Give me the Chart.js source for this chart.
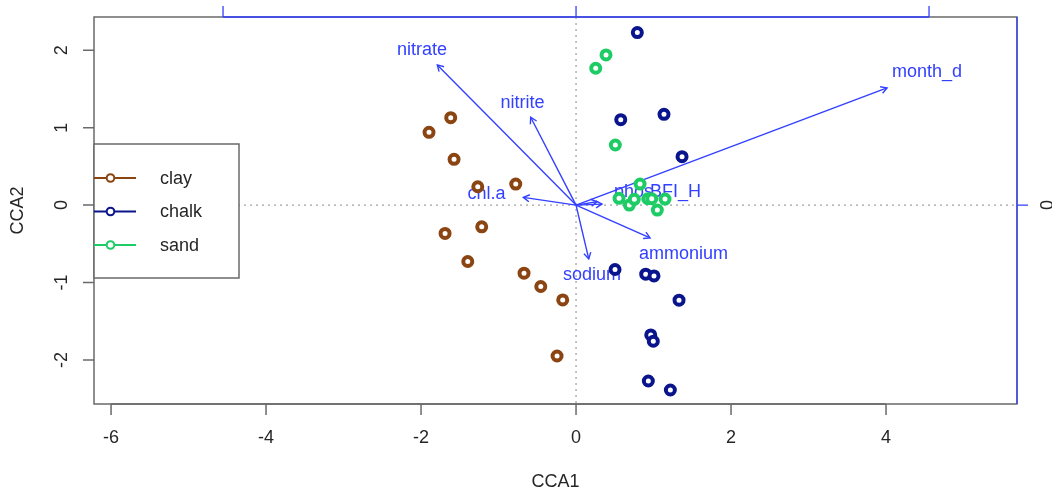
<!DOCTYPE html>
<html>
<head>
<meta charset="utf-8">
<script src="https://cdn.jsdelivr.net/npm/chart.js@4.4.0/dist/chart.umd.min.js"></script>
<style>
    html, body { margin: 0; padding: 0; background: #fff; }
</style>
</head>
<body>
<canvas id="cca" width="1052" height="492"></canvas>
<script>
// Site scores (CCA1, CCA2) per soil type
const clayX = [-1.617, -1.897, -1.574, -1.268, -0.778, -1.690, -1.217, -1.397, -0.671, -0.455, -0.172, -0.245];
const clayY = [1.129, 0.940, 0.591, 0.237, 0.272, -0.366, -0.281, -0.729, -0.880, -1.052, -1.225, -1.950];
const chalkX = [0.791, 0.577, 1.135, 1.368, 0.503, 0.899, 1.006, 1.329, 0.964, 0.997, 0.933, 1.217];
const chalkY = [2.229, 1.103, 1.173, 0.625, -0.832, -0.893, -0.915, -1.229, -1.678, -1.759, -2.273, -2.389];
const sandX = [0.387, 0.254, 0.507, 0.826, 0.555, 0.688, 0.752, 0.925, 0.977, 1.148, 1.049];
const sandY = [1.940, 1.768, 0.776, 0.272, 0.087, 0.000, 0.074, 0.082, 0.082, 0.078, -0.065];

// Environmental arrows (already scaled to the site axes)
const arrowNames = ['nitrate', 'nitrite', 'chl.a', 'sodium', 'ammonium', 'month_d', 'phos', 'BFI_H'];
const arrowX = [-1.790, -0.585, -0.680, 0.164, 0.955, 4.013, 0.271, 0.335];
const arrowY = [1.811, 1.135, 0.100, -0.695, -0.423, 1.514, 0.043, 0.013];
const labelX = [-1.987, -0.690, -1.155, 0.206, 1.387, 4.529, 0.742, 1.284];
const labelY = [2.005, 1.320, 0.142, -0.906, -0.634, 1.720, 0.168, 0.168];

// Axis ticks
const xTicks = [-6, -4, -2, 0, 2, 4];
const yTicks = [-2, -1, 0, 1, 2];
const arrowTicks = [-1, 0, 1];   // top / right axes for the arrow scale
const arrowMul = 4.555;

const groups = ['clay', 'chalk', 'sand'];
const groupColors = ['#8B4513', '#0A148C', '#1ECC66'];
const arrowColor = '#3340ff';
const boxColor = '#6a6a6a';
const textColor = '#262626';
const FONT = "18px 'Liberation Sans', Arial, sans-serif";

function pts(xs, ys) {
    return xs.map((x, i) => ({ x: x, y: ys[i] }));
}

const pointSets = [[clayX, clayY], [chalkX, chalkY], [sandX, sandY]].map((p, i) => ({
    label: groups[i],
    data: pts(p[0], p[1]),
    borderColor: groupColors[i],
    backgroundColor: '#ffffff',
    pointRadius: 4.5,
    pointBorderWidth: 4,
    pointHoverRadius: 4.5,
    showLine: false
}));

const arrowSets = arrowNames.map((name, i) => ({
    label: name,
    data: [{ x: 0, y: 0 }, { x: arrowX[i], y: arrowY[i] }],
    borderColor: arrowColor,
    borderWidth: 1.4,
    pointRadius: 0,
    showLine: true,
    isArrow: true
}));

// Axes, box, zero lines, arrow heads and labels (drawn under the points)
const rAxes = {
    id: 'rAxes',
    beforeDatasetsDraw(chart) {
        const { ctx, chartArea: a, scales: { x, y } } = chart;
        ctx.save();

        // dotted zero lines
        ctx.strokeStyle = '#8a8a8a';
        ctx.lineWidth = 1;
        ctx.setLineDash([2, 4]);
        ctx.beginPath();
        ctx.moveTo(a.left, y.getPixelForValue(0));
        ctx.lineTo(a.right, y.getPixelForValue(0));
        ctx.moveTo(x.getPixelForValue(0), a.top);
        ctx.lineTo(x.getPixelForValue(0), a.bottom);
        ctx.stroke();
        ctx.setLineDash([]);

        // arrow heads
        chart.data.datasets.forEach((ds, i) => {
            if (!ds.isArrow) return;
            const meta = chart.getDatasetMeta(i).data;
            const p0 = meta[0], p1 = meta[1];
            const ang = Math.atan2(p1.y - p0.y, p1.x - p0.x);
            const len = 7;
            ctx.strokeStyle = arrowColor;
            ctx.lineWidth = 1.4;
            ctx.beginPath();
            ctx.moveTo(p1.x - len * Math.cos(ang - Math.PI / 6), p1.y - len * Math.sin(ang - Math.PI / 6));
            ctx.lineTo(p1.x, p1.y);
            ctx.lineTo(p1.x - len * Math.cos(ang + Math.PI / 6), p1.y - len * Math.sin(ang + Math.PI / 6));
            ctx.stroke();
        });

        // arrow labels
        ctx.font = FONT;
        ctx.fillStyle = arrowColor;
        ctx.textAlign = 'center';
        ctx.textBaseline = 'middle';
        arrowNames.forEach((name, i) => {
            ctx.fillText(name, x.getPixelForValue(labelX[i]), y.getPixelForValue(labelY[i]));
        });
        ctx.restore();
    },
    afterDatasetsDraw(chart) {
        const { ctx, chartArea: a, scales: { x, y } } = chart;
        ctx.save();

        // plot box
        ctx.strokeStyle = boxColor;
        ctx.lineWidth = 1.5;
        ctx.strokeRect(a.left, a.top, a.right - a.left, a.bottom - a.top);

        // bottom axis
        ctx.font = FONT;
        ctx.fillStyle = textColor;
        ctx.textAlign = 'center';
        ctx.textBaseline = 'middle';
        ctx.lineWidth = 1.5;
        ctx.beginPath();
        ctx.moveTo(x.getPixelForValue(xTicks[0]), a.bottom);
        ctx.lineTo(x.getPixelForValue(xTicks[xTicks.length - 1]), a.bottom);
        xTicks.forEach(t => {
            const px = x.getPixelForValue(t);
            ctx.moveTo(px, a.bottom);
            ctx.lineTo(px, a.bottom + 11);
        });
        ctx.stroke();
        xTicks.forEach(t => ctx.fillText(String(t), x.getPixelForValue(t), a.bottom + 34));
        ctx.fillText('CCA1', (a.left + a.right) / 2, a.bottom + 78);

        // left axis
        ctx.beginPath();
        yTicks.forEach(t => {
            const py = y.getPixelForValue(t);
            ctx.moveTo(a.left, py);
            ctx.lineTo(a.left - 11, py);
        });
        ctx.stroke();
        yTicks.forEach(t => {
            ctx.save();
            ctx.translate(a.left - 31.5, y.getPixelForValue(t));
            ctx.rotate(-Math.PI / 2);
            ctx.fillText(String(t), 0, 0);
            ctx.restore();
        });
        ctx.save();
        ctx.translate(a.left - 76, (a.top + a.bottom) / 2);
        ctx.rotate(-Math.PI / 2);
        ctx.fillText('CCA2', 0, 0);
        ctx.restore();

        // top and right axes for the arrow scale
        ctx.strokeStyle = arrowColor;
        ctx.lineWidth = 1.3;
        ctx.beginPath();
        ctx.moveTo(x.getPixelForValue(arrowTicks[0] * arrowMul), a.top);
        ctx.lineTo(x.getPixelForValue(arrowTicks[arrowTicks.length - 1] * arrowMul), a.top);
        arrowTicks.forEach(t => {
            const px = x.getPixelForValue(t * arrowMul);
            ctx.moveTo(px, a.top);
            ctx.lineTo(px, a.top - 11);
        });
        ctx.moveTo(a.right, a.top);
        ctx.lineTo(a.right, a.bottom);
        arrowTicks.forEach(t => {
            const v = t * arrowMul;
            if (v < y.min || v > y.max) return;
            const py = y.getPixelForValue(v);
            ctx.moveTo(a.right, py);
            ctx.lineTo(a.right + 11, py);
        });
        ctx.stroke();
        ctx.fillStyle = textColor;
        arrowTicks.forEach(t => {
            const v = t * arrowMul;
            if (v < y.min || v > y.max) return;
            ctx.save();
            ctx.translate(a.right + 31.5, y.getPixelForValue(v));
            ctx.rotate(-Math.PI / 2);
            ctx.fillText(String(t), 0, 0);
            ctx.restore();
        });

        // legend
        const lx = a.left, ly = 144, lw = 145, lh = 134;
        ctx.fillStyle = '#ffffff';
        ctx.fillRect(lx, ly, lw, lh);
        ctx.strokeStyle = boxColor;
        ctx.lineWidth = 1.5;
        ctx.strokeRect(lx, ly, lw, lh);
        ctx.textAlign = 'left';
        groups.forEach((g, i) => {
            const ry = ly + 34 + i * 33.5;
            ctx.strokeStyle = groupColors[i];
            ctx.lineWidth = 2;
            ctx.beginPath();
            ctx.moveTo(lx, ry);
            ctx.lineTo(lx + 42, ry);
            ctx.stroke();
            ctx.fillStyle = '#ffffff';
            ctx.beginPath();
            ctx.arc(lx + 16.5, ry, 3.8, 0, Math.PI * 2);
            ctx.fill();
            ctx.stroke();
            ctx.fillStyle = textColor;
            ctx.fillText(g, lx + 66, ry + 1);
        });
        ctx.restore();
    }
};

new Chart(document.getElementById('cca'), {
    type: 'scatter',
    data: { datasets: pointSets.concat(arrowSets) },
    options: {
        responsive: false,
        animation: false,
        layout: { padding: { left: 94, right: 35, top: 17, bottom: 88 } },
        scales: {
            x: { type: 'linear', min: -6.22, max: 5.69, display: false },
            y: { type: 'linear', min: -2.57, max: 2.43, display: false }
        },
        plugins: {
            legend: { display: false },
            tooltip: { enabled: false }
        }
    },
    plugins: [rAxes]
});
</script>
</body>
</html>
